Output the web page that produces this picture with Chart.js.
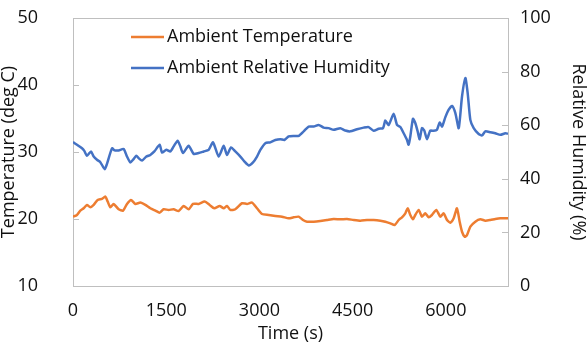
<!DOCTYPE html>
<html>
<head>
<meta charset="utf-8">
<script src="https://cdn.jsdelivr.net/npm/chart.js@4.4.1/dist/chart.umd.min.js"></script>
<style>
  html, body { margin: 0; padding: 0; background: #ffffff; }
  #wrap { width: 587px; height: 350px; }
</style>
</head>
<body>
<div id="wrap"><canvas id="c" width="587" height="350"></canvas></div>
<script>
// ---- data ----
const tempTime = [0,64,118,172,225,279,333,397,467,520,558,601,654,735,805,869,933,1003,1084,1164,1244,1325,1395,1459,1539,1620,1700,1781,1861,1931,2022,2119,2199,2274,2360,2425,2478,2532,2612,2720,2800,2881,2961,3041,3149,3256,3363,3471,3551,3631,3701,3766,3873,3980,4087,4195,4302,4409,4517,4624,4731,4838,4946,5026,5107,5176,5241,5294,5348,5385,5428,5471,5508,5562,5616,5669,5723,5776,5846,5911,5964,6018,6072,6126,6179,6222,6260,6303,6340,6394,6474,6555,6635,6716,6796,6877,7000];
const tempC = [20.35,20.6,21.25,21.6,22.1,21.75,22.1,22.85,23.0,23.35,22.6,21.75,22.25,21.45,21.25,22.25,22.85,22.25,22.45,22.1,21.6,21.25,20.95,21.45,21.35,21.45,21.2,21.95,21.45,22.25,22.25,22.6,22.1,21.6,21.95,21.6,21.95,21.35,21.45,22.35,22.25,22.45,21.6,20.75,20.6,20.45,20.35,20.1,20.25,20.35,19.85,19.6,19.6,19.7,19.85,20.0,19.95,20.0,19.85,19.75,19.85,19.85,19.75,19.6,19.35,19.1,19.85,20.25,20.85,21.6,20.6,19.95,20.6,21.35,20.35,20.85,20.25,20.6,21.35,20.35,20.85,19.85,19.45,20.1,21.6,19.6,18.1,17.35,17.6,18.85,19.6,19.95,19.75,19.85,20.0,20.1,20.1];

const rhTime = [0,64,145,182,225,290,333,386,440,510,547,628,670,735,815,869,923,966,1019,1057,1110,1180,1244,1309,1395,1432,1502,1566,1620,1684,1727,1770,1861,1942,2022,2103,2183,2253,2344,2425,2478,2543,2612,2693,2757,2827,2897,2961,3015,3095,3176,3256,3337,3401,3471,3551,3631,3712,3792,3873,3953,4034,4114,4195,4302,4382,4463,4570,4678,4758,4838,4919,4989,5026,5080,5160,5214,5268,5321,5375,5401,5428,5471,5508,5546,5578,5616,5653,5696,5750,5803,5857,5900,5939,5992,6046,6099,6153,6207,6260,6314,6351,6394,6448,6528,6582,6635,6716,6796,6877,6957,7000];
const rhPct = [53.7,52.7,51.4,50.4,48.6,50.2,48.3,47.1,46.2,43.6,45.6,51.4,50.6,50.6,51.1,48.3,46.1,47.1,48.6,47.7,46.8,48.3,48.9,50.2,52.7,49.8,50.8,50.2,52.1,54.2,52.1,49.6,52.3,49.3,49.6,50.2,50.8,53.6,48.3,52.3,48.9,51.7,50.2,48.3,46.5,45.0,46.1,48.3,50.8,53.3,53.6,54.5,54.8,54.5,55.8,56.0,56.0,57.7,59.5,59.5,60.1,59.1,58.9,58.3,58.9,58.0,57.7,58.5,59.1,59.3,57.9,58.7,58.9,61.8,60.1,64.3,60.1,59.3,57.0,54.5,52.7,55.8,62.4,60.8,57.7,54.8,58.9,58.0,54.8,58.0,57.9,58.3,61.0,59.5,63.0,65.8,67.2,64.5,58.9,70.7,77.6,72.0,62.0,58.9,56.7,56.2,57.7,57.4,57.0,56.4,57.0,56.8];

const seriesNames = ['Ambient Temperature', 'Ambient Relative Humidity'];
const xTicks = [0, 1500, 3000, 4500, 6000];
const tempTicks = [10, 20, 30, 40, 50];
const rhTicks = [0, 20, 40, 60, 80, 100];
const axisTitles = { x: 'Time (s)', yLeft: 'Temperature (deg C)', yRight: 'Relative Humidity (%)' };

// ---- chart ----
const FONT = '"Open Sans", "Liberation Sans", sans-serif';
const FS = 18;
const TXT = '#111111';
const AXIS = '#bfbfbf';
const CLEAR = 'rgba(0,0,0,0)';

const toPts = (xs, ys) => xs.map((x, i) => ({ x: x, y: ys[i] }));
const plain = v => String(v);

const framePlugin = {
  id: 'frameAndLegend',
  afterDraw(chart) {
    const ctx = chart.ctx, a = chart.chartArea;
    ctx.save();
    ctx.strokeStyle = AXIS;
    ctx.lineWidth = 1;
    ctx.beginPath();
    ctx.moveTo(a.left, a.top + 0.5); ctx.lineTo(a.right, a.top + 0.5);
    ctx.stroke();
    const yl = chart.scales.yT, yr = chart.scales.yH;
    yl.ticks.forEach(t => {
      const y = Math.round(yl.getPixelForValue(t.value)) + 0.5;
      ctx.beginPath(); ctx.moveTo(a.left, y); ctx.lineTo(a.left + 6, y); ctx.stroke();
    });
    yr.ticks.forEach(t => {
      const y = Math.round(yr.getPixelForValue(t.value)) + 0.5;
      ctx.beginPath(); ctx.moveTo(a.right - 6, y); ctx.lineTo(a.right, y); ctx.stroke();
    });
    // legend inside plot area
    ctx.font = FS + 'px ' + FONT;
    ctx.textBaseline = 'middle';
    ctx.textAlign = 'left';
    chart.data.datasets.forEach((ds, i) => {
      const y = 37 + i * 31;
      ctx.strokeStyle = ds.borderColor;
      ctx.lineWidth = 2.5;
      ctx.beginPath(); ctx.moveTo(131, y); ctx.lineTo(164, y); ctx.stroke();
      ctx.fillStyle = TXT;
      ctx.fillText(ds.label, 167, y);
    });
    ctx.restore();
  }
};

new Chart(document.getElementById('c'), {
  type: 'line',
  data: {
    datasets: [
      { label: seriesNames[0], data: toPts(tempTime, tempC), yAxisID: 'yT',
        borderColor: '#ED7D31', borderWidth: 2.5, pointRadius: 0, tension: 0.2, fill: false },
      { label: seriesNames[1], data: toPts(rhTime, rhPct), yAxisID: 'yH',
        borderColor: '#4472C4', borderWidth: 2.5, pointRadius: 0, tension: 0.2, fill: false }
    ]
  },
  options: {
    responsive: false,
    devicePixelRatio: 1,
    animation: false,
    layout: { padding: { top: 18, left: 0, right: 0, bottom: 0 } },
    plugins: { legend: { display: false }, tooltip: { enabled: false } },
    scales: {
      x: {
        type: 'linear', min: 0, max: 7000,
        afterBuildTicks: s => { s.ticks = xTicks.map(v => ({ value: v })); },
        afterFit: s => { s.height = 64; },
        grid: { drawOnChartArea: false, drawTicks: true, tickLength: 9, tickColor: CLEAR },
        border: { display: true, color: AXIS, width: 1 },
        ticks: { padding: 5, color: TXT, font: { family: FONT, size: FS }, maxRotation: 0, callback: plain },
        title: { display: true, text: axisTitles.x, color: TXT, font: { family: FONT, size: FS }, padding: { top: 0, bottom: 5 } }
      },
      yT: {
        type: 'linear', position: 'left', min: 10, max: 50,
        afterBuildTicks: s => { s.ticks = tempTicks.map(v => ({ value: v })); },
        afterFit: s => { s.width = 73; },
        grid: { drawOnChartArea: false, drawTicks: true, tickLength: 29, tickColor: CLEAR },
        border: { display: true, color: AXIS, width: 1 },
        ticks: { padding: 6, color: TXT, font: { family: FONT, size: FS }, callback: plain },
        title: { display: true, text: axisTitles.yLeft, color: TXT, font: { family: FONT, size: FS, lineHeight: 1.0 }, padding: { top: 0, bottom: 0 } }
      },
      yH: {
        type: 'linear', position: 'right', min: 0, max: 100,
        afterBuildTicks: s => { s.ticks = rhTicks.map(v => ({ value: v })); },
        afterFit: s => { s.width = 79; },
        grid: { drawOnChartArea: false, drawTicks: true, tickLength: 8, tickColor: CLEAR },
        border: { display: true, color: AXIS, width: 1 },
        ticks: { padding: 4, color: TXT, font: { family: FONT, size: FS }, callback: plain },
        title: { display: true, text: axisTitles.yRight, color: TXT, font: { family: FONT, size: FS, lineHeight: 1.0 }, padding: { top: 0, bottom: 1 } }
      }
    }
  },
  plugins: [framePlugin]
});
</script>
</body>
</html>
